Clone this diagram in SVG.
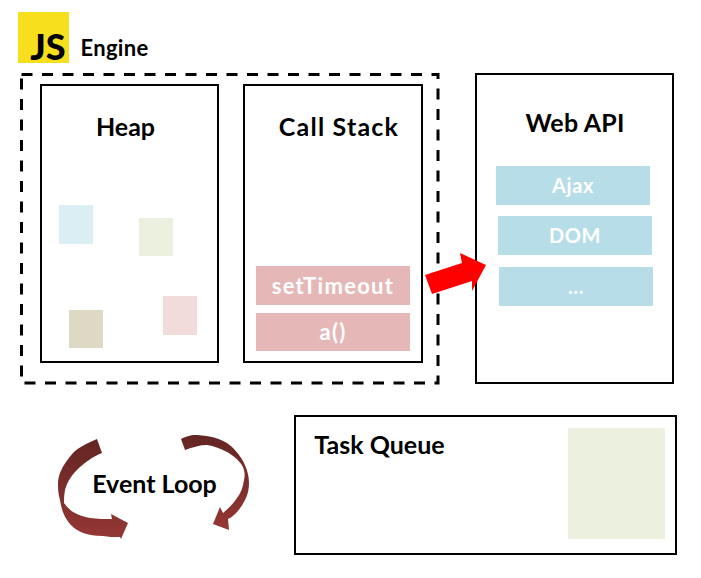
<svg xmlns="http://www.w3.org/2000/svg" width="701" height="578" viewBox="0 0 701 578">
<style>
.b{fill:#fff;stroke:#000;stroke-width:2}
text{font-family:"Lato","Open Sans",sans-serif;font-weight:700;text-anchor:middle;fill:#000}
.t{font-size:25px}
.w{fill:#fff;font-size:22px;letter-spacing:1.3px}
.w2{fill:#fff;font-size:20px;letter-spacing:.6px}
.red{fill:#e5b8b7}
.blue{fill:#b7dde8}
</style>
<defs>
<linearGradient id="loop" x1="0" y1="0" x2="0" y2="1"><stop offset="0" stop-color="#632523"/><stop offset="1" stop-color="#953735"/></linearGradient>
</defs>
<rect width="701" height="578" fill="#fff"/>
<g id="engine-label">
<rect x="18" y="12" width="51" height="51" fill="#f7df1e"/>
<text x="48" y="60" style="font-size:36px;font-weight:900">JS</text>
<text x="114.500" y="56" style="font-size:22px;letter-spacing:.3px">Engine</text>
</g>
<g id="engine">
<rect x="21.500" y="74.500" width="416.500" height="308.500" fill="none" stroke="#000" stroke-width="3" stroke-dasharray="11 9.500"/>
</g>
<g id="heap">
<rect class="b" x="41" y="85" width="177" height="277"/>
<text class="t" x="125.500" y="136">Heap</text>
<rect x="59" y="205" width="34" height="39" fill="#dbeef4"/>
<rect x="139" y="218" width="34" height="38" fill="#ebf1de"/>
<rect x="69" y="310" width="34" height="38" fill="#ddd9c4"/>
<rect x="163" y="296" width="34" height="39" fill="#f2dcdb"/>
</g>
<g id="call-stack">
<rect class="b" x="244" y="85" width="178" height="277"/>
<text class="t" x="339" y="136" style="letter-spacing:1.200px">Call Stack</text>
<g id="settimeout"><rect class="red" x="256" y="266" width="154" height="39"/><text class="w" x="333" y="294">setTimeout</text></g>
<g id="a"><rect class="red" x="256" y="313" width="154" height="38"/><text class="w" x="333" y="340">a()</text></g>
</g>
<g id="web-api">
<rect class="b" x="476" y="74" width="197" height="309"/>
<text class="t" x="575" y="132" style="letter-spacing:.2px">Web API</text>
<g id="ajax"><rect class="blue" x="496" y="166" width="154" height="39"/><text class="w2" x="573" y="193">Ajax</text></g>
<g id="dom"><rect class="blue" x="498" y="216" width="154" height="39"/><text class="w2" x="575" y="243">DOM</text></g>
<g id="more"><rect class="blue" x="499" y="267" width="154" height="39"/><text class="w2" x="576" y="294">...</text></g>
</g>
<g id="task-queue">
<rect class="b" x="295" y="416" width="381" height="138"/>
<text class="t" x="379.500" y="454">Task Queue</text>
<rect x="568" y="428" width="97" height="111" fill="#ebf1de"/>
</g>
<g id="event-loop">
<text class="t" x="154.500" y="493">Event Loop</text>
</g>
<g id="connectors">
<path d="M425 275L432 294L472 281L472 291L486 265L460 253L462 263Z" fill="#f00"/>
<path fill="url(#loop)" d="M97 439L102 453C92 457 86 462 80 467C72 474 67 482 65 490C64 495 64 500 64 503C67 507 70 510 73 512C78 515 84 517 90 518C98 519 105 519 112 519L111 514L128 523L121 539L120 537C114 537 108 537 103 536C95 536 89 535 83 533C76 530 71 526 67 520C63 514 61 507 60 500C58 494 58 488 58 483C58 479 59 476 60 473C63 465 68 459 73 453C79 447 88 443 97 439Z"/>
<path fill="url(#loop)" d="M181 439L185 450C193 447 200 445 207 445C214 446 221 449 227 452C234 456 240 461 243 467C245 472 245 476 244 480C243 487 241 493 237 498C233 504 228 509 223 513L220 507L213 524L229 530L228 519C235 516 241 508 245 500C248 494 249 489 249 483C249 476 247 469 244 463C240 455 234 448 227 443C217 437 205 435 193 435C188 436 184 437 181 439Z"/>
</g>
</svg>
